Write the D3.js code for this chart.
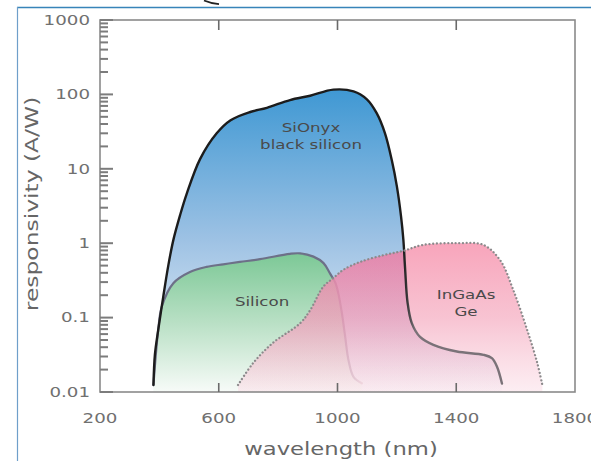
<!DOCTYPE html>
<html>
<head>
<meta charset="utf-8">
<script src="https://cdn.jsdelivr.net/npm/d3@7"></script>
<style>
  html, body { margin: 0; padding: 0; background: #fff; }
  svg { display: block; }
  text { font-family: "DejaVu Sans", sans-serif; }
</style>
</head>
<body>
<svg id="chart" width="591" height="461"></svg>
<script>
// ---- data ----
const sionyxNm  = [380, 385, 396, 413, 430, 447, 470, 492, 537, 593, 640, 706, 762, 840, 908, 986, 1054, 1099, 1132, 1160, 1183, 1200, 1214, 1222, 1228, 1236, 1250, 1278, 1323, 1402, 1492, 1520, 1537, 1554];
const sionyxVal = [0.0124, 0.032, 0.068, 0.19, 0.5, 1.1, 2.4, 4.6, 13.5, 30, 45, 58, 66, 84, 96, 116, 110, 86, 56, 30, 13, 5.8, 2.3, 1.1, 0.44, 0.16, 0.085, 0.055, 0.043, 0.035, 0.0316, 0.0285, 0.022, 0.013];

const siliconNm  = [380, 396, 408, 447, 503, 559, 615, 671, 739, 840, 874, 919, 953, 975, 992, 1003, 1015, 1026, 1037, 1054, 1082];
const siliconVal = [0.0124, 0.068, 0.14, 0.29, 0.41, 0.48, 0.52, 0.56, 0.61, 0.72, 0.73, 0.66, 0.54, 0.39, 0.30, 0.21, 0.114, 0.055, 0.027, 0.016, 0.0131];

const ingaasNm  = [665, 716, 783, 874, 908, 952, 986, 1020, 1076, 1155, 1222, 1289, 1403, 1491, 1548, 1592, 1639, 1673, 1690];
const ingaasVal = [0.0124, 0.0245, 0.046, 0.084, 0.126, 0.26, 0.34, 0.44, 0.56, 0.69, 0.79, 0.95, 1.0, 0.95, 0.59, 0.235, 0.068, 0.0245, 0.0124];

const xTickValues = [200, 600, 1000, 1400, 1800];
const xTickLabels = ["200", "600", "1000", "1400", "1800"];
const yTickValues = [0.01, 0.1, 1, 10, 100, 1000];
const yTickLabels = ["0.01", "0.1", "1", "10", "100", "1000"];

const seriesLabels = [
  { lines: ["SiOnyx", "black silicon"], nm: 911, val: 31 },
  { lines: ["Silicon"], nm: 746, val: 0.143 },
  { lines: ["InGaAs", "Ge"], nm: 1433, val: 0.178 }
];
const xTitle = "wavelength (nm)";
const yTitle = "responsivity (A/W)";

// ---- layout ----
const svg = d3.select("#chart");
const L = 100, R = 575, T = 20, B = 392;
const x = d3.scaleLinear().domain([200, 1800]).range([L, R]);
const y = d3.scaleLog().domain([0.01, 1000]).range([B, T]);

function stretch(sel, k) {
  sel.each(function () {
    const w = this.getComputedTextLength();
    this.setAttribute("textLength", w * k);
    this.setAttribute("lengthAdjust", "spacingAndGlyphs");
  });
}

const defs = svg.append("defs");
function vGrad(id, stops) {
  const g = defs.append("linearGradient").attr("id", id)
    .attr("x1", 0).attr("y1", 0).attr("x2", 0).attr("y2", 1);
  stops.forEach(s => g.append("stop").attr("offset", s[0]).attr("stop-color", s[1]).attr("stop-opacity", s[2] == null ? 1 : s[2]));
}
vGrad("gBlue", [[0, "#3f98d3"], [0.5, "#9ec2e4"], [0.82, "#d8e6f3"], [1, "#f9fbfd"]]);
vGrad("gGreen", [[0, "#7cc896"], [0.5, "#b9e0c5"], [1, "#f7fbf8"]]);
vGrad("gPink", [[0, "#f796b0", 0.86], [0.5, "#f5aec2", 0.74], [1, "#fbe2ea", 0.6]]);
vGrad("gPinkOver", [[0, "#d04f90", 0.32], [0.6, "#d86a9e", 0.14], [1, "#e090b0", 0]]);

function hGrad(id, x1, x2, c1, c2) {
  const g = defs.append("linearGradient").attr("id", id).attr("gradientUnits", "userSpaceOnUse")
    .attr("x1", x1).attr("x2", x2).attr("y1", 0).attr("y2", 0);
  g.append("stop").attr("offset", 0).attr("stop-color", c1);
  g.append("stop").attr("offset", 1).attr("stop-color", c2);
}
hGrad("sSionyx", x(1222), x(1262), "#1c1c1c", "#7a7278");
hGrad("sSilicon", x(990), x(1080), "#6d7088", "#dccbd2");

// outer blue frame
svg.append("line").attr("x1", 17).attr("x2", 591).attr("y1", 7.5).attr("y2", 7.5)
  .attr("stroke", "#3784b9").attr("stroke-width", 1.6);
svg.append("line").attr("x1", 17.5).attr("x2", 17.5).attr("y1", 7).attr("y2", 461)
  .attr("stroke", "#6f9fca").attr("stroke-width", 1.2);
svg.append("path").attr("d", "M204,0.5 Q211,3.5 219,4.2").attr("fill", "none")
  .attr("stroke", "#222").attr("stroke-width", 1.8);

// ---- areas ----
const zip = (a, b) => a.map((d, i) => [d, b[i]]);
const sionyx = zip(sionyxNm, sionyxVal);
const silicon = zip(siliconNm, siliconVal);
const ingaas = zip(ingaasNm, ingaasVal);

const curve = d3.curveCatmullRom.alpha(0.5);
const area = d3.area().x(d => x(d[0])).y0(y(0.01)).y1(d => y(d[1])).curve(curve);
const line = d3.line().x(d => x(d[0])).y(d => y(d[1])).curve(curve);

defs.append("clipPath").attr("id", "clipSionyx")
  .append("path").datum(sionyx).attr("d", area);

svg.append("path").datum(sionyx).attr("d", area).attr("fill", "url(#gBlue)");
svg.append("path").datum(silicon).attr("d", area).attr("fill", "url(#gGreen)");

// ---- lines under the pink veil ----
svg.append("path").datum(silicon).attr("d", line).attr("fill", "none")
  .attr("stroke", "url(#sSilicon)").attr("stroke-width", 2.2).attr("stroke-linecap", "round");

svg.append("path").datum(ingaas).attr("d", area).attr("fill", "url(#gPink)");
svg.append("path").datum(ingaas).attr("d", area).attr("fill", "url(#gPinkOver)")
  .attr("clip-path", "url(#clipSionyx)");

svg.append("path").datum(sionyx).attr("d", line).attr("fill", "none")
  .attr("stroke", "url(#sSionyx)").attr("stroke-width", 2.4).attr("stroke-linecap", "round");
svg.append("path").datum(ingaas).attr("d", line).attr("fill", "none")
  .attr("stroke", "#8c8a8c").attr("stroke-width", 2.3)
  .attr("stroke-dasharray", "0.01 3.7").attr("stroke-linecap", "round");

// ---- frame & ticks ----
svg.append("rect").attr("x", L).attr("y", T).attr("width", R - L).attr("height", B - T)
  .attr("fill", "none").attr("stroke", "#8a8a8a").attr("stroke-width", 1.6);

const yMinor = y.ticks();
svg.append("g").selectAll("line").data(yMinor).join("line")
  .attr("x1", L).attr("x2", d => (Math.abs(Math.log10(d) - Math.round(Math.log10(d))) < 1e-9 ? L + 13 : L + 8))
  .attr("y1", d => y(d)).attr("y2", d => y(d))
  .attr("stroke", "#7c7c7c").attr("stroke-width", 2);

const xInner = xTickValues.slice(1, -1);
svg.append("g").selectAll("line").data(xInner).join("line")
  .attr("x1", d => x(d)).attr("x2", d => x(d)).attr("y1", B).attr("y2", B - 9)
  .attr("stroke", "#6a6a6a").attr("stroke-width", 1.6);
svg.append("g").selectAll("line").data(xInner).join("line")
  .attr("x1", d => x(d)).attr("x2", d => x(d)).attr("y1", T).attr("y2", T + 10)
  .attr("stroke", "#6a6a6a").attr("stroke-width", 1.6);

// tick labels
svg.append("g").selectAll("text").data(yTickValues).join("text")
  .attr("x", 90).attr("y", d => y(d)).attr("dy", "0.36em")
  .attr("text-anchor", "end").attr("font-size", 13.5).attr("fill", "#707070")
  .text((d, i) => yTickLabels[i]).call(stretch, 1.35);

svg.append("g").selectAll("text").data(xTickValues).join("text")
  .attr("x", d => x(d)).attr("y", 423)
  .attr("text-anchor", "middle").attr("font-size", 13.5).attr("fill", "#707070")
  .text((d, i) => xTickLabels[i]).call(stretch, 1.35);

// axis titles
svg.append("text").attr("x", 341).attr("y", 455).attr("text-anchor", "middle")
  .attr("font-size", 18).attr("fill", "#666").text(xTitle).call(stretch, 1.26);
svg.append("text").attr("transform", "translate(32,204) rotate(-90)")
  .attr("text-anchor", "middle").attr("dy", "0.35em")
  .attr("font-size", 18).attr("fill", "#666").text(yTitle).call(stretch, 1.3);

// series labels
seriesLabels.forEach(s => {
  const t = svg.append("text").attr("text-anchor", "middle").attr("font-size", 13)
    .attr("fill", "#4a4a4a");
  s.lines.forEach((ln, i) => {
    t.append("tspan").attr("x", x(s.nm)).attr("y", y(s.val)).attr("dy", (i * 17) + "px").text(ln);
  });
  t.selectAll("tspan").call(stretch, 1.28);
});
</script>
</body>
</html>
